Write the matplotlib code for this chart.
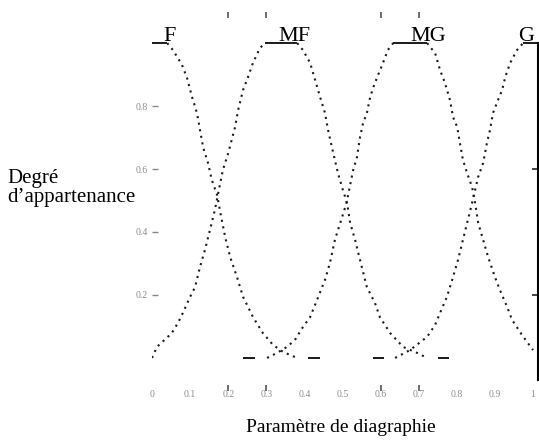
import matplotlib
matplotlib.use("Agg")
import matplotlib.pyplot as plt

# ── Données ──────────────────────────────────────────────────────────
f_fall_x = [0.04, 0.055, 0.079, 0.092, 0.105, 0.118, 0.126, 0.134, 0.147, 0.157, 0.171,
            0.178, 0.192, 0.205, 0.223, 0.239, 0.265, 0.291, 0.318, 0.344, 0.381]
f_fall_y = [1.0, 0.978, 0.93, 0.889, 0.829, 0.778, 0.724, 0.67, 0.619, 0.565, 0.517,
            0.47, 0.384, 0.321, 0.257, 0.194, 0.13, 0.079, 0.041, 0.019, 0.0]

mf_rise_x = [0.0, 0.013, 0.052, 0.068, 0.081, 0.1, 0.113, 0.126, 0.139, 0.152, 0.165,
             0.186, 0.2, 0.218, 0.226, 0.239, 0.252, 0.265, 0.283, 0.297]
mf_rise_y = [0.0, 0.035, 0.079, 0.111, 0.143, 0.194, 0.225, 0.289, 0.343, 0.406, 0.47,
             0.597, 0.65, 0.733, 0.787, 0.851, 0.892, 0.937, 0.984, 1.0]

mf_fall_x = [0.381, 0.396, 0.415, 0.428, 0.441, 0.454, 0.462, 0.472, 0.488, 0.501, 0.512,
             0.52, 0.533, 0.546, 0.564, 0.585, 0.598, 0.625, 0.659, 0.696, 0.722]
mf_fall_y = [1.0, 0.978, 0.937, 0.883, 0.829, 0.778, 0.724, 0.67, 0.587, 0.533, 0.492,
             0.429, 0.375, 0.311, 0.225, 0.175, 0.13, 0.079, 0.035, 0.016, 0.0]

mg_rise_x = [0.302, 0.328, 0.354, 0.375, 0.396, 0.415, 0.433, 0.454, 0.467, 0.48, 0.51,
             0.528, 0.538, 0.546, 0.554, 0.564, 0.572, 0.58, 0.591, 0.604, 0.619, 0.633]
mg_rise_y = [0.0, 0.016, 0.035, 0.057, 0.098, 0.13, 0.184, 0.248, 0.302, 0.375, 0.49,
             0.597, 0.638, 0.702, 0.746, 0.778, 0.825, 0.857, 0.892, 0.93, 0.978, 1.0]

mg_fall_x = [0.722, 0.743, 0.756, 0.769, 0.782, 0.79, 0.801, 0.808, 0.816, 0.827, 0.84,
             0.848, 0.856, 0.869, 0.882, 0.9, 0.913, 0.932, 0.945, 0.971, 1.0]
mg_fall_y = [1.0, 0.968, 0.914, 0.873, 0.819, 0.765, 0.733, 0.683, 0.629, 0.587, 0.543,
             0.492, 0.429, 0.375, 0.321, 0.257, 0.216, 0.162, 0.121, 0.073, 0.025]

g_rise_x = [0.638, 0.677, 0.722, 0.743, 0.756, 0.774, 0.79, 0.803, 0.816, 0.827, 0.84,
            0.856, 0.869, 0.879, 0.887, 0.895, 0.908, 0.919, 0.927, 0.94, 0.958, 0.974]
g_rise_y = [0.0, 0.025, 0.067, 0.105, 0.143, 0.194, 0.257, 0.311, 0.375, 0.429, 0.492,
            0.575, 0.619, 0.683, 0.724, 0.778, 0.819, 0.851, 0.892, 0.937, 0.978, 1.0]

# paliers à 1 (trait plein) et petits traits à 0
top_flats = [(0.0, 0.04), (0.297, 0.381), (0.633, 0.722), (0.974, 1.013)]
bottom_marks = [(0.24, 0.27), (0.41, 0.44), (0.58, 0.61), (0.75, 0.78)]

labels = ["F", "MF", "MG", "G"]
label_x = [0.029, 0.331, 0.677, 0.961]

x_ticks = [0, 0.1, 0.2, 0.3, 0.4, 0.5, 0.6, 0.7, 0.8, 0.9, 1]
x_ticklabels = ["0", "0.1", "0.2", "0.3", "0.4", "0.5", "0.6", "0.7", "0.8", "0.9", "1"]
y_ticks = [0.2, 0.4, 0.6, 0.8]
y_ticklabels = ["0.2", "0.4", "0.6", "0.8"]
mark_x = [0.2, 0.3, 0.6, 0.7]          # petits repères haut / bas
right_ticks_y = [0.2, 0.6]
x_right = 1.013

# ── Figure ───────────────────────────────────────────────────────────
plt.rcParams["font.family"] = ["Liberation Serif", "DejaVu Serif"]
fig = plt.figure(figsize=(5.39, 4.45), dpi=100)
ax = fig.add_axes([152 / 539, 1 - 380 / 445, 386 / 539, 370 / 445])
ax.set_xlim(0, x_right)
ax.set_ylim(-0.07, 1.105)

dot = dict(color="#1a1a1a", lw=1.5, ls=(0, (1, 2.2)))
for xs, ys in [(f_fall_x, f_fall_y), (mf_rise_x, mf_rise_y), (mf_fall_x, mf_fall_y),
               (mg_rise_x, mg_rise_y), (mg_fall_x, mg_fall_y), (g_rise_x, g_rise_y)]:
    ax.plot(xs, ys, **dot)

for a, b in top_flats:
    ax.plot([a, b], [1.0, 1.0], color="#1a1a1a", lw=1.4, solid_capstyle="butt")
for a, b in bottom_marks:
    ax.plot([a, b], [0.0, 0.0], color="#1a1a1a", lw=1.4, solid_capstyle="butt")

for lab, lx in zip(labels, label_x):
    ax.text(lx, 1.006, lab, fontsize=16, va="baseline", ha="left", color="black")

# repères haut et bas
ax.plot(mark_x, [1.089] * len(mark_x), ls="none", marker="|", ms=4, mew=1.2,
        color="#555555", clip_on=False)
ax.plot(mark_x, [-0.095] * len(mark_x), ls="none", marker="|", ms=4, mew=1.2,
        color="#555555", clip_on=False)
ax.plot([x_right] * len(right_ticks_y), right_ticks_y, ls="none", marker=0, ms=4,
        mew=1.2, color="#222222", clip_on=False)

for s in ["left", "top", "bottom"]:
    ax.spines[s].set_visible(False)
ax.spines["right"].set_bounds(-0.07, 1.0)
ax.spines["right"].set_linewidth(1.5)

ax.set_xticks(x_ticks)
ax.set_xticklabels(x_ticklabels)
ax.set_yticks(y_ticks)
ax.set_yticklabels(y_ticklabels)
ax.tick_params(axis="x", length=0, pad=7, labelsize=7, labelcolor="#8c8c8c")
ax.tick_params(axis="y", direction="in", length=4, width=1, color="#888888",
               pad=3, labelsize=7, labelcolor="#8c8c8c")

fig.text(7 / 539, 1 - 188 / 445, "Degré\nd\u2019appartenance", fontsize=15,
         ha="left", va="center", linespacing=1.0)
fig.text(341 / 539, 1 - 428 / 445, "Paramètre de diagraphie", fontsize=14,
         ha="center", va="center")

fig.savefig("out.png", dpi=100)
